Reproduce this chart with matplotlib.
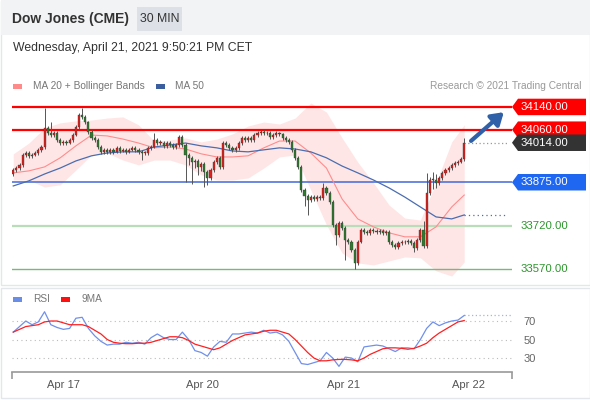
import matplotlib
matplotlib.use("Agg")
import matplotlib.pyplot as plt
from matplotlib.patches import Rectangle, Polygon
from matplotlib.transforms import blended_transform_factory

plt.rcParams['font.family'] = ['Liberation Sans', 'DejaVu Sans']

# 30 min candles, open = previous close
first_open = 33905
closes = [33918, 33925, 33936, 33971, 33978, 33968, 33971, 33978, 33989, 33999,
          34066, 34048, 34041, 34048, 34024, 34013, 34017, 34013, 34024, 34041,
          34070, 34112, 34105, 34087, 34052, 34031, 34024, 33999, 33982, 33989,
          33982, 33989, 33982, 33996, 33985, 33989, 33982, 33989, 33996, 33989,
          33982, 33978, 33978, 33996, 33999, 34024, 34013, 34013, 34003, 34013,
          34006, 33999, 34006, 34034, 34006, 33971, 33961, 33947, 33950, 33929,
          33940, 33911, 33890, 33918, 33947, 33961, 33929, 34013, 34006, 33996,
          33989, 33996, 34013, 34031, 34024, 34031, 34024, 34041, 34048, 34052,
          34048, 34048, 34034, 34041, 34048, 34045, 34031, 34024, 34017, 33989,
          33961, 33929, 33848, 33827, 33813, 33823, 33816, 33823, 33820, 33855,
          33837, 33806, 33725, 33690, 33732, 33714, 33672, 33665, 33637, 33591,
          33665, 33707, 33700, 33697, 33707, 33704, 33700, 33702, 33697, 33700,
          33665, 33654, 33647, 33661, 33665, 33663, 33670, 33661, 33644, 33672,
          33707, 33651, 33837, 33883, 33883, 33873, 33890, 33908, 33918, 33925,
          33936, 33943, 33947, 33957, 34014]
highs = [33925, 33932, 33944, 33978, 33985, 33984, 33978, 33984, 33995, 34006,
         34136, 34074, 34087, 34055, 34054, 34030, 34024, 34023, 34030, 34048,
         34078, 34120, 34136, 34110, 34092, 34058, 34038, 34030, 34005, 33996,
         33995, 33995, 33995, 34003, 34002, 33996, 33995, 33995, 34003, 34002,
         33995, 33988, 33986, 34002, 34006, 34048, 34030, 34022, 34019, 34020,
         34019, 34012, 34013, 34041, 34040, 34012, 33978, 33967, 33958, 33956,
         33948, 33946, 33917, 33925, 33954, 33968, 33966, 34020, 34020, 34012,
         34002, 34003, 34020, 34038, 34037, 34038, 34037, 34048, 34055, 34060,
         34058, 34056, 34054, 34048, 34055, 34053, 34050, 34037, 34030, 34022,
         33995, 33967, 33935, 33855, 33834, 33830, 33830, 33830, 33830, 33873,
         33862, 33843, 33812, 33731, 33740, 33740, 33720, 33680, 33672, 33643,
         33672, 33715, 33714, 33707, 33714, 33714, 33711, 33710, 33709, 33707,
         33706, 33671, 33660, 33668, 33672, 33672, 33677, 33676, 33667, 33680,
         33715, 33740, 33908, 33895, 33910, 33905, 33898, 33915, 33925, 33932,
         33943, 33950, 33954, 33964, 34030]
lows = [33898, 33912, 33919, 33930, 33965, 33962, 33962, 33966, 33972, 33982,
        33992, 34040, 34034, 34035, 34018, 34006, 34007, 34006, 34008, 34018,
        34036, 34064, 34098, 34080, 34045, 34024, 34017, 33992, 33975, 33976,
        33976, 33976, 33976, 33977, 33979, 33980, 33976, 33977, 33984, 33983,
        33976, 33953, 33970, 33972, 33990, 33994, 34007, 34005, 33996, 33997,
        34000, 33992, 33993, 34000, 33999, 33876, 33935, 33870, 33925, 33900,
        33915, 33858, 33866, 33884, 33912, 33940, 33920, 33922, 34000, 33990,
        33982, 33983, 33990, 34007, 34017, 34018, 34017, 34018, 34035, 34042,
        34041, 34040, 34027, 34028, 34035, 34038, 34024, 34017, 34010, 33982,
        33953, 33920, 33840, 33790, 33760, 33805, 33808, 33808, 33812, 33814,
        33830, 33798, 33717, 33654, 33684, 33706, 33602, 33656, 33628, 33570,
        33585, 33660, 33693, 33690, 33691, 33697, 33693, 33694, 33690, 33690,
        33658, 33646, 33639, 33641, 33654, 33656, 33657, 33654, 33630, 33638,
        33666, 33644, 33645, 33830, 33850, 33855, 33866, 33884, 33902, 33912,
        33919, 33930, 33937, 33941, 33950]

# indicator readings (bar index, price)
band_x = [0, 5, 10, 15, 20, 25, 30, 35, 40, 45, 50, 55, 60, 65, 70, 75, 80, 85,
          90, 95, 100, 105, 110, 115, 120, 125, 130, 135, 140, 144]
ma20 = [33908, 33915, 33929, 33961, 34003, 34041, 34038, 34027, 34013, 33996,
        33999, 33992, 33975, 33964, 33964, 33968, 33996, 34020, 34020, 33978,
        33925, 33816, 33746, 33718, 33697, 33683, 33683, 33718, 33788, 33830]
ma50 = [33862, 33880, 33904, 33925, 33950, 33968, 33978, 33982, 33982, 33999,
        34006, 34013, 34003, 33996, 33985, 33982, 33989, 33996, 33992, 33982,
        33961, 33932, 33908, 33883, 33855, 33823, 33788, 33753, 33746, 33760]
bb_upper = [33975, 34013, 34066, 34084, 34091, 34094, 34101, 34105, 34077, 34020,
            34024, 34031, 34017, 34027, 34045, 34073, 34087, 34080, 34101, 34154,
            34122, 34031, 33946, 33873, 33795, 33749, 33742, 33873, 34017, 34077]
bb_lower = [33883, 33883, 33858, 33866, 33918, 33971, 33978, 33953, 33936, 33953,
            33953, 33936, 33901, 33883, 33883, 33890, 33925, 33964, 33971, 33848,
            33725, 33626, 33591, 33584, 33598, 33612, 33609, 33563, 33545, 33594]

rsi_x = list(range(0, 145, 2))
rsi = [58, 64, 70, 66, 69, 80, 66, 63, 61, 62, 73, 74, 62, 54, 48, 44, 45, 45, 47,
       46, 47, 45, 52, 56, 52, 50, 50, 58, 50, 38, 36, 32, 42, 48, 47, 56, 56, 57,
       58, 57, 60, 57, 58, 55, 48, 36, 24, 23, 25, 27, 36, 30, 21, 31, 30, 26, 42,
       43, 44, 43, 40, 37, 41, 41, 40, 50, 62, 69, 65, 68, 70, 71, 76]
rsi_ma9 = [58, 61, 64, 65, 66, 69, 70, 70, 68, 66, 66, 66, 64, 60, 56, 50, 47, 46,
           45.5, 45.5, 46, 46, 47, 49, 51, 53, 53, 52, 49, 45, 43, 41, 39, 41, 45,
           49, 52, 55, 56, 57, 59, 60, 60, 58, 56, 50, 43, 36, 30, 27, 27, 28, 28.5,
           28.5, 28, 27, 30, 34, 37, 40, 41, 41, 40.5, 39.5, 40.5, 43, 46, 52, 57,
           61, 65, 69, 70.5]

resistances = [34140, 34060]
pivot = 33875
supports = [33720, 33570]
date_pos = [16, 60.5, 105.3, 145.3]
date_labels = ['Apr 17', 'Apr 20', 'Apr 21', 'Apr 22']

W, H = 590, 400
fig = plt.figure(figsize=(W / 100, H / 100), dpi=100)


def px(x, y):
    return x / W, 1 - y / H


# cards and header
fig.patches.append(Rectangle(px(0.5, 284.5), 589 / W, 284 / H, transform=fig.transFigure,
                             facecolor='white', edgecolor='#e3e6ea', lw=1, zorder=-5))
fig.patches.append(Rectangle(px(0.5, 397.5), 589 / W, 110 / H, transform=fig.transFigure,
                             facecolor='white', edgecolor='#e3e6ea', lw=1, zorder=-5))
fig.patches.append(Rectangle(px(0.5, 35), 589 / W, 35 / H, transform=fig.transFigure,
                             facecolor='#f2f3f5', edgecolor='none', zorder=-4))
fig.patches.append(Rectangle(px(137, 31), 45 / W, 24 / H, transform=fig.transFigure,
                             facecolor='#dde1e7', edgecolor='none', zorder=-3))
fig.text(*px(12, 19), 'Dow Jones (CME)', fontsize=10, fontweight='bold', color='#333333', va='center')
fig.text(*px(159.5, 19), '30 MIN', fontsize=8.8, color='#333333', va='center', ha='center')
fig.text(*px(13, 48), 'Wednesday, April 21, 2021 9:50:21 PM CET', fontsize=8.8, color='#333333', va='center')

fig.patches.append(Rectangle(px(13, 89), 9 / W, 5 / H, transform=fig.transFigure, facecolor='#ff8a8a', edgecolor='none'))
fig.text(*px(33, 86), 'MA 20 + Bollinger Bands', fontsize=7.3, color='#777777', va='center')
fig.patches.append(Rectangle(px(156, 89), 9 / W, 5 / H, transform=fig.transFigure, facecolor='#3b5f9e', edgecolor='none'))
fig.text(*px(175, 86), 'MA 50', fontsize=7.3, color='#777777', va='center')
fig.text(*px(581, 86), 'Research \u00a9 2021 Trading Central', fontsize=7.3, color='#999999', va='center', ha='right')

# main price panel
ax = fig.add_axes([12 / W, 1 - 282 / H, 500 / W, 187 / H])
ax.set_xlim(-0.4, 159.25)
ax.set_ylim(33524, 34182)
ax.axis('off')

n = len(closes)
xs = list(range(n))
opens = [first_open] + closes[:-1]

ax.fill_between(band_x, bb_lower, bb_upper, color='#ffe6e6', lw=0, zorder=1)
ax.plot(band_x, ma20, color='#ff8c8c', lw=0.8, zorder=3)
ax.plot(band_x, ma50, color='#4a6db0', lw=0.9, zorder=3)
ax.hlines(ma50[-1], band_x[-1], 157.5, colors='#4a6db0', linestyles=(0, (1, 2.5)), lw=0.9, zorder=3)

for lv in resistances:
    ax.axhline(lv, color='#ff0000', lw=1.6, zorder=2)
ax.axhline(pivot, color='#4169d8', lw=1.1, zorder=2)
ax.axhline(supports[0], color='#b9ddb9', lw=1.6, zorder=2)
ax.axhline(supports[1], color='#79b879', lw=1.0, zorder=2)

ax.vlines(xs, lows, highs, color='#555555', lw=0.7, zorder=4)
for x, o, c in zip(xs, opens, closes):
    col = '#e0201c' if c >= o else '#2e7a2e'
    ax.bar(x, max(abs(c - o), 2), bottom=min(o, c), width=0.68, color=col,
           edgecolor='#333333', lw=0.25, zorder=5)

ax.hlines(closes[-1], n - 1, 158, colors='#999999', linestyles=(0, (1, 2)), lw=0.9, zorder=3)
ax.annotate('', xy=(n + 12.3, resistances[0] - 12), xytext=(n + 0.5, closes[-1]),
            arrowprops=dict(arrowstyle='-|>,head_length=0.7,head_width=0.45',
                            color='#2f60a8', lw=3), zorder=6)

# right side price badges
bt = blended_transform_factory(fig.transFigure, ax.transData)
hh = 29


def badge(price, color):
    pts = [(512 / W, price), (518 / W, price + hh), (586 / W, price + hh),
           (586 / W, price - hh), (518 / W, price - hh)]
    fig.patches.append(Polygon(pts, closed=True, transform=bt, facecolor=color,
                               edgecolor='none', zorder=5))
    fig.text(521 / W, price, f'{price:.2f}', transform=bt, color='white',
             fontsize=8.2, va='center', zorder=6)


badge(resistances[0], '#ff0000')
badge(resistances[1], '#ff0000')
badge(closes[-1], '#333333')
badge(pivot, '#1f66f0')
for lv in supports:
    fig.text(521 / W, lv, f'{lv:.2f}', transform=bt, color='#2c962c', fontsize=8.2, va='center')

# RSI panel
fig.patches.append(Rectangle(px(13, 302), 9 / W, 5 / H, transform=fig.transFigure, facecolor='#6a8de8', edgecolor='none'))
fig.text(*px(33, 299), 'RSI', fontsize=7.3, color='#777777', va='center')
fig.patches.append(Rectangle(px(61, 302), 9 / W, 5 / H, transform=fig.transFigure, facecolor='#ff1010', edgecolor='none'))
fig.text(*px(82, 299), '9MA', fontsize=7.3, color='#777777', va='center')

ax2 = fig.add_axes([12 / W, 1 - 372 / H, 500 / W, 67 / H])
ax2.set_xlim(-0.4, 159.25)
ax2.set_ylim(14.9, 87.3)
for s in ['top', 'left', 'right']:
    ax2.spines[s].set_visible(False)
ax2.spines['bottom'].set_color('#999999')
ax2.spines['bottom'].set_linewidth(1.2)
for lv in [70, 50, 30]:
    ax2.axhline(lv, color='#bbbbbb', lw=0.8, linestyle=(0, (1, 3)), zorder=1)
ax2.plot(rsi_x, rsi, color='#7090ea', lw=0.9, zorder=3)
ax2.plot(rsi_x, rsi_ma9, color='#ff2020', lw=0.9, zorder=4)
ax2.hlines(rsi[-1], rsi_x[-1], 159.25, colors='#a8b4d8', linestyles=(0, (1, 2)), lw=0.9)
ax2.yaxis.tick_right()
ax2.set_yticks([70, 50, 30])
ax2.set_yticklabels(['70', '50', '30'])
ax2.tick_params(axis='y', length=0, pad=8, labelsize=8, labelcolor='#666666')
ax2.set_xticks(date_pos)
ax2.set_xticklabels(date_labels)
ax2.tick_params(axis='x', length=0, pad=6, labelsize=8, labelcolor='#555555')
ax2.set_xticks([-0.4, 159.2], minor=True)
ax2.tick_params(axis='x', which='minor', length=5, width=1.2, color='#999999')

fig.savefig('out.png', dpi=100)
